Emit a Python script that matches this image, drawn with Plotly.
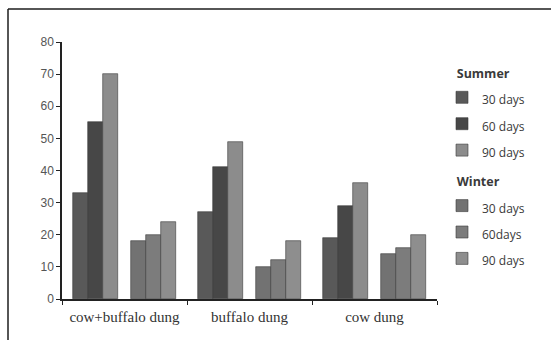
import plotly.graph_objects as go

categories = ["cow+buffalo dung", "buffalo dung", "cow dung"]
summer_30 = [33, 27, 19]
summer_60 = [55, 41, 29]
summer_90 = [70, 49, 36]
winter_30 = [18, 10, 14]
winter_60 = [20, 12, 16]
winter_90 = [24, 18, 20]
series_names = ["30 days", "60 days", "90 days", "30 days", "60days", "90 days"]
y_ticks = [0, 10, 20, 30, 40, 50, 60, 70, 80]

W, H = 551, 340
ML, MR, MT, MB = 62, 114, 42, 41

series = [
    ("Summer", series_names[0], summer_30, "#595959", -0.41),
    ("Summer", series_names[1], summer_60, "#474747", -0.29),
    ("Summer", series_names[2], summer_90, "#8c8c8c", -0.17),
    ("Winter", series_names[3], winter_30, "#727272", 0.05),
    ("Winter", series_names[4], winter_60, "#7c7c7c", 0.17),
    ("Winter", series_names[5], winter_90, "#8e8e8e", 0.29),
]

fig = go.Figure()
for grp, name, vals, col, off in series:
    fig.add_trace(go.Bar(
        x=categories, y=vals,
        name="<span style='font-size:12px'>" + name + "</span>",
        legendgroup=grp,
        legendgrouptitle=dict(
            text="<b><span style='font-size:12.5px'>\u00a0\u00a0\u00a0" + grp + "</span></b>",
            font=dict(size=17, family="Open Sans", color="#3a3a3a")),
        marker=dict(color=col, line=dict(color="#3a3a3a", width=0.6)),
        width=0.12, offset=off,
    ))

pw = W - ML - MR
ph = H - MT - MB
# outer frame (top and left edges)
x_left = (8 - ML) / pw
y_top = 1 + (MT - 9) / ph
y_bot = -(MB) / ph
x_right = 1 + MR / pw
fig.add_shape(type="line", xref="paper", yref="paper", x0=x_left, x1=x_right,
              y0=y_top, y1=y_top, line=dict(color="#1e1e1e", width=1.5))
fig.add_shape(type="line", xref="paper", yref="paper", x0=x_left, x1=x_left,
              y0=y_bot, y1=y_top, line=dict(color="#1e1e1e", width=1.5))

fig.update_layout(
    width=W, height=H,
    margin=dict(l=ML, r=MR, t=MT, b=MB, pad=0),
    paper_bgcolor="white", plot_bgcolor="white",
    showlegend=True,
    legend=dict(
        x=(442 - ML) / pw, xref="paper", xanchor="left",
        y=1 - (54 - MT) / ph, yref="paper", yanchor="top",
        traceorder="grouped", tracegroupgap=4,
        font=dict(size=18, family="Open Sans", color="#3a3a3a"),
        bgcolor="rgba(0,0,0,0)",
    ),
    xaxis=dict(
        type="category", tickson="boundaries", ticks="outside", ticklen=4,
        tickcolor="#222", showline=True, linecolor="#222", linewidth=1.5,
        tickfont=dict(family="Liberation Serif", size=15, color="#333"),
        ticklabelstandoff=3,
        range=[-0.5, 2.5], showgrid=False, zeroline=False,
    ),
    yaxis=dict(
        range=[0, 80], tickvals=y_ticks, ticks="outside", ticklen=4,
        tickcolor="#222", showline=True, linecolor="#222", linewidth=1.5,
        tickfont=dict(family="Liberation Sans Narrow, Liberation Sans", size=12, color="#555"),
        showgrid=False, zeroline=False,
    ),
    bargap=0,
)

fig.write_html("out.html")
